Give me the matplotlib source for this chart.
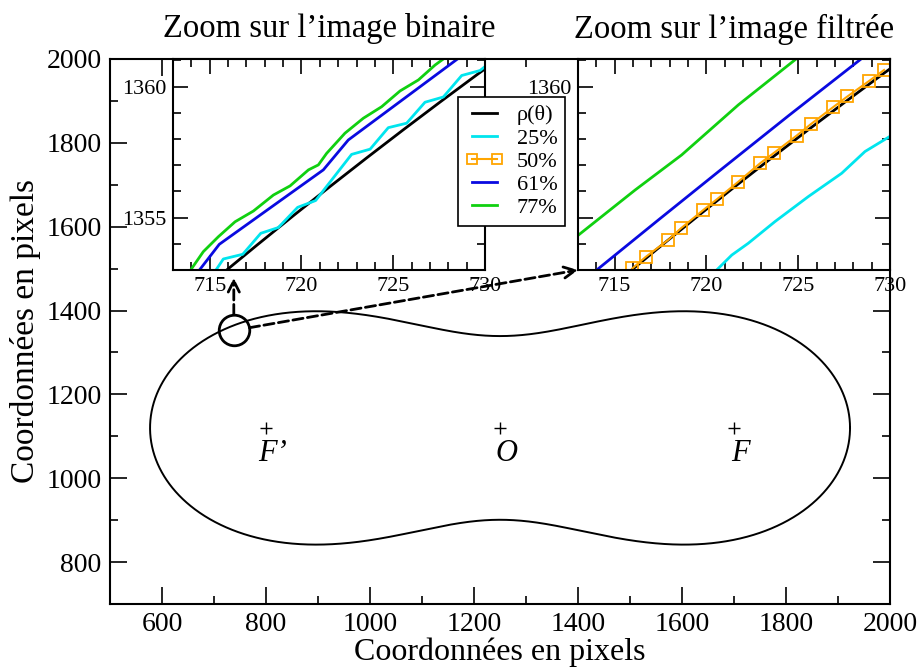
import numpy as np
import matplotlib.pyplot as plt
from matplotlib.ticker import MultipleLocator

plt.rcParams['font.family'] = ['Liberation Serif', 'DejaVu Serif']

# Cassini oval rho(theta): centre, half focal distance, constant
centre = (1250, 1120)
a_foc = 450
b_cst = 500.5

# foci / centre markers
pt_x = [800, 1250, 1700]
pt_y = [1120, 1120, 1120]
pt_lab = ["F\u2019", "O", "F"]

# zoom on the binary image
bin25_x = [715.34, 715.74, 716.80, 717.78, 718.74, 719.79, 720.77, 722.73, 723.74,
           724.73, 725.73, 726.73, 727.73, 728.73, 729.73, 730.0]
bin25_y = [1353.0, 1353.42, 1353.60, 1354.40, 1354.62, 1355.39, 1355.65, 1357.41, 1357.61,
           1358.43, 1358.60, 1359.40, 1359.60, 1360.42, 1360.61, 1360.76]
bin61_x = [714.44, 715.52, 721.19, 722.55, 728.50]
bin61_y = [1353.0, 1353.98, 1356.82, 1357.96, 1361.05]
bin77_x = [713.96, 714.65, 715.47, 716.38, 717.38, 718.47, 719.38, 720.38, 720.92,
           721.37, 722.37, 723.37, 724.37, 725.37, 726.37, 727.28, 727.73]
bin77_y = [1353.0, 1353.70, 1354.27, 1354.84, 1355.25, 1355.86, 1356.21, 1356.82, 1357.01,
           1357.45, 1358.22, 1358.79, 1359.23, 1359.83, 1360.25, 1360.82, 1361.05]

# zoom on the filtered image
fil25_x = [720.56, 721.38, 722.28, 723.74, 725.55, 727.37, 728.64, 729.91, 730.0]
fil25_y = [1353.0, 1353.57, 1354.02, 1354.85, 1355.80, 1356.69, 1357.52, 1358.06, 1358.10]
fil50_x = [715.96, 716.69, 717.92, 718.61, 719.83, 720.59, 721.74, 722.92, 723.70,
           724.92, 725.68, 726.88, 727.68, 728.86, 729.68]
fil50_y = [1353.06, 1353.50, 1354.15, 1354.59, 1355.29, 1355.71, 1356.37, 1357.07, 1357.48,
           1358.13, 1358.56, 1359.20, 1359.62, 1360.21, 1360.63]
fil61_x = [714.02, 717.40, 720.65, 724.50, 728.37]
fil61_y = [1353.0, 1354.92, 1356.75, 1358.90, 1361.02]
fil77_x = [712.84, 716.11, 718.65, 721.74, 724.83]
fil77_y = [1354.23, 1356.05, 1357.39, 1359.30, 1361.02]

c_cyan = '#00e5ee'
c_orange = '#ffa500'
c_blue = '#0a0ae0'
c_green = '#10d010'

# polar equation of the oval
theta = np.linspace(0, 2 * np.pi, 4000)
rho = np.sqrt(a_foc**2 * np.cos(2 * theta)
              + np.sqrt(b_cst**4 - a_foc**4 * np.sin(2 * theta)**2))
ox = centre[0] + rho * np.cos(theta)
oy = centre[1] + rho * np.sin(theta)

fig = plt.figure(figsize=(9.17, 6.68), dpi=100)
ax = fig.add_axes([0.12, 0.0958, 0.8506, 0.8159])

ax.plot(ox, oy, color='k', lw=1.4)
ax.plot(pt_x, pt_y, '+', color='k', ms=9, mew=1)
for x, y, s in zip(pt_x, pt_y, pt_lab):
    ax.text(x + 12, y - 62, s, fontsize=22, style='italic', ha='center', va='center')

ax.set_xlim(500, 2000)
ax.set_ylim(700, 2000)
ax.xaxis.set_minor_locator(MultipleLocator(100))
ax.yaxis.set_minor_locator(MultipleLocator(100))
ax.set_xticks(range(600, 2001, 200))
ax.set_yticks(range(800, 2001, 200))
ax.tick_params(which='both', direction='in', top=True, right=True, labelsize=20, width=1.2)
ax.tick_params(which='major', length=12, pad=6)
ax.tick_params(which='minor', length=6)
for sp in ax.spines.values():
    sp.set_linewidth(1.5)
ax.set_xlabel("Coordonnées en pixels", fontsize=23, labelpad=0)
ax.set_ylabel("Coordonnées en pixels", fontsize=24, labelpad=4)

# circle around the zoomed zone
ax.plot(738, 1354, 'o', ms=22, mfc='none', mec='k', mew=2)


def inset(rect, title):
    ins = fig.add_axes(rect)
    ins.set_xlim(713, 730)
    ins.set_ylim(1353, 1361.05)
    ins.xaxis.set_major_locator(MultipleLocator(5))
    ins.xaxis.set_minor_locator(MultipleLocator(1))
    ins.yaxis.set_major_locator(MultipleLocator(5))
    ins.yaxis.set_minor_locator(MultipleLocator(1))
    ins.tick_params(which='both', direction='in', top=True, right=True, labelsize=16, width=1.2)
    ins.tick_params(which='major', length=11, pad=5)
    ins.tick_params(which='minor', length=5.5)
    for sp in ins.spines.values():
        sp.set_linewidth(1.5)
    ins.plot(ox, oy, color='k', lw=2, label='ρ(θ)')
    fig.text(rect[0] + rect[2] / 2, 1 - 29 / 668, title, fontsize=23.5, ha='center', va='center')
    return ins


axl = inset([0.1887, 0.5958, 0.3402, 0.3159], "Zoom sur l\u2019image binaire")
axl.plot(bin25_x, bin25_y, color=c_cyan, lw=2)
axl.plot(bin61_x, bin61_y, color=c_blue, lw=2)
axl.plot(bin77_x, bin77_y, color=c_green, lw=2)

axr = inset([0.6303, 0.5958, 0.3402, 0.3159], "Zoom sur l\u2019image filtrée")
axr.set_yticks([1355, 1360], ['', '1360'])
axr.plot(fil25_x, fil25_y, color=c_cyan, lw=2, label='25%')
axr.plot(fil50_x, fil50_y, color=c_orange, lw=1.5, marker='s', ms=8, mfc='none',
         mec=c_orange, mew=1.3, label='50%')
axr.plot(fil61_x, fil61_y, color=c_blue, lw=2, label='61%')
axr.plot(fil77_x, fil77_y, color=c_green, lw=2, label='77%')

ax.annotate('', xy=(738, 1478), xytext=(738, 1390),
            arrowprops=dict(arrowstyle='->', lw=2, ls='--', shrinkA=0, shrinkB=0,
                            mutation_scale=20))
ax.annotate('', xy=(0, 0), xycoords=axr.transAxes, xytext=(768, 1359),
            textcoords='data',
            arrowprops=dict(arrowstyle='->', lw=2, ls='--', shrinkA=0, shrinkB=0,
                            mutation_scale=20))

h, l = axl.get_legend_handles_labels()
h2, l2 = axr.get_legend_handles_labels()
leg = fig.legend(h + h2[1:], l + l2[1:], loc='upper left',
                 bbox_to_anchor=(458 / 917, 1 - 97 / 668), borderaxespad=0,
                 fontsize=16, fancybox=False, framealpha=1, edgecolor='k',
                 handlelength=1.7, labelspacing=0.12, borderpad=0.35,
                 handletextpad=0.6, numpoints=2, markerscale=0.9)
leg.get_frame().set_linewidth(1.2)

plt.savefig("out.png", dpi=100)
